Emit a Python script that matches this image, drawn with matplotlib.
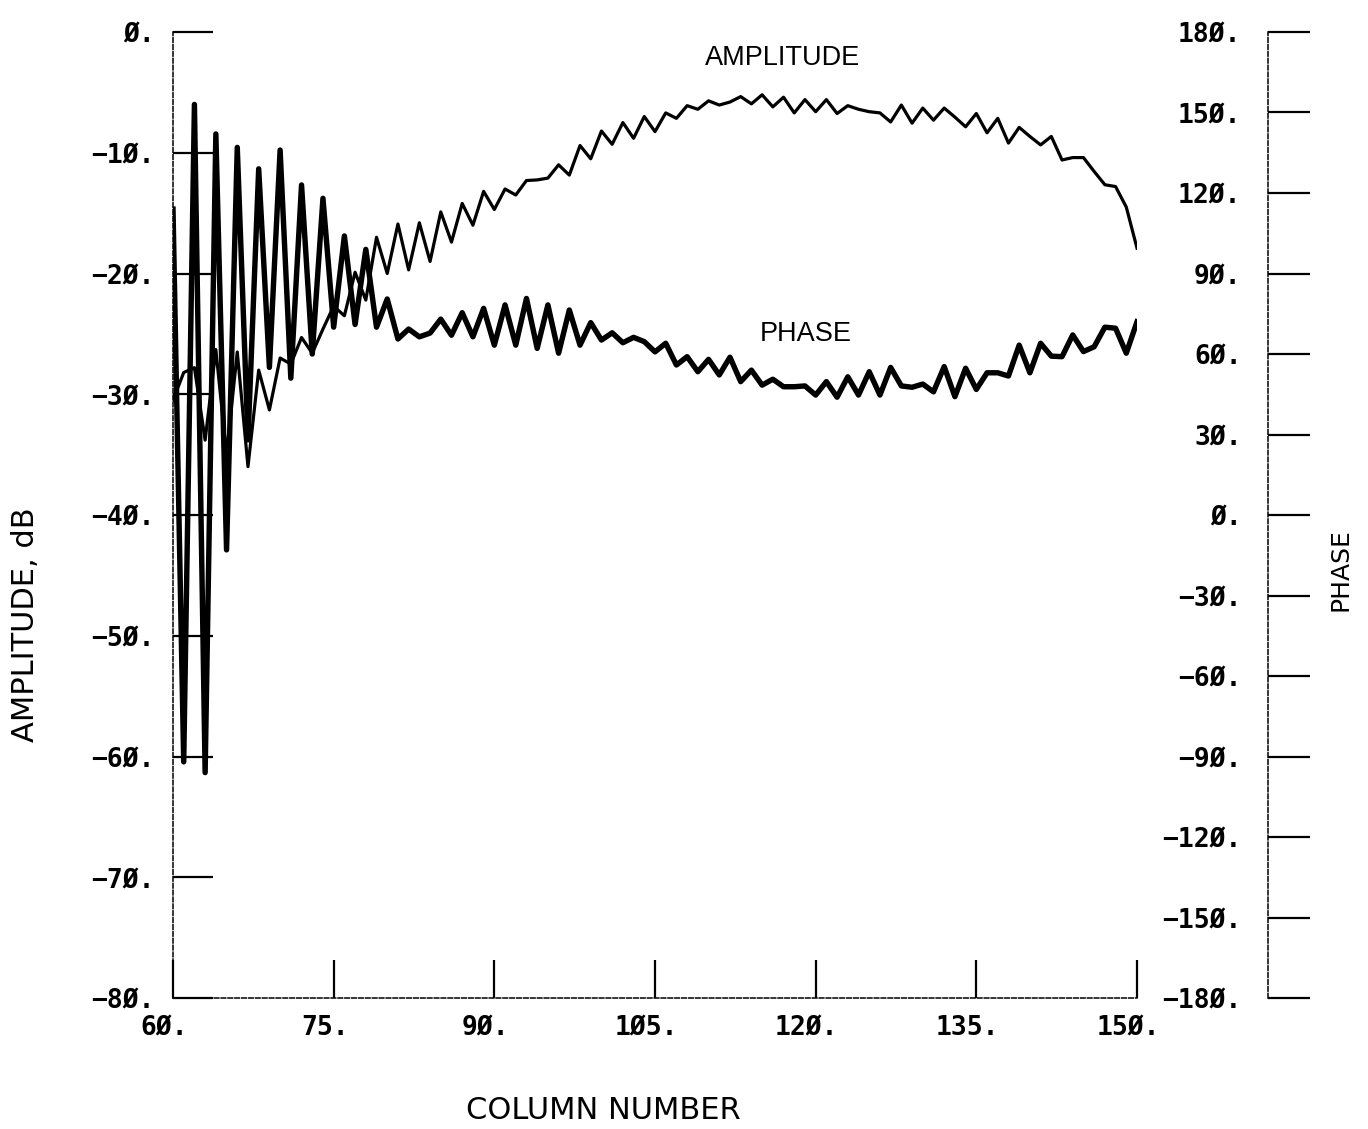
import numpy as np
import matplotlib
matplotlib.use('Agg')
import matplotlib.pyplot as plt
from matplotlib.ticker import FixedLocator, FixedFormatter
import matplotlib.transforms as mtransforms

# ---------------- data ----------------
columns = list(range(60, 151))

amplitude_db = [
    -30.5, -28.2, -27.8, -33.8, -26.3, -35.0, -26.5, -36.0, -28.0, -31.3,   # 60-69
    -27.0, -27.5, -25.3, -26.6, -24.6, -22.7, -23.5, -19.9, -22.2, -17.0,   # 70-79
    -20.0, -15.9, -19.7, -15.8, -19.0, -14.9, -17.4, -14.2, -16.0, -13.2,   # 80-89
    -14.7, -13.0, -13.5, -12.3, -12.25, -12.1, -11.0, -11.85, -9.4, -10.5,  # 90-99
    -8.2, -9.3, -7.5, -8.8, -7.0, -8.25, -6.7, -7.15, -6.1, -6.4,           # 100-109
    -5.7, -6.05, -5.8, -5.35, -5.95, -5.2, -6.2, -5.4, -6.7, -5.6,          # 110-119
    -6.6, -5.6, -6.75, -6.1, -6.4, -6.6, -6.7, -7.45, -6.05, -7.55,         # 120-129
    -6.3, -7.3, -6.3, -7.05, -7.85, -6.75, -8.35, -7.15, -9.2, -7.9,        # 130-139
    -8.65, -9.35, -8.65, -10.6, -10.4, -10.4, -11.55, -12.65, -12.8, -14.5, # 140-149
    -17.9,                                                                   # 150
]

phase_deg = [
    114, -92, 153, -96, 142, -13, 137, 28, 129, 55,                         # 60-69
    136, 51, 123, 60, 118, 70, 104, 71, 99, 70,                             # 70-79
    80.5, 65.6, 69.3, 66.4, 67.8, 73.0, 67.0, 75.4, 66.4, 77.0,             # 80-89
    63.3, 78.3, 63.3, 80.7, 62.1, 78.3, 60.3, 76.4, 63.3, 71.7,             # 90-99
    65.2, 67.9, 64.2, 66.2, 64.6, 60.8, 64.0, 55.9, 59.0, 53.4,             # 100-109
    58.0, 52.2, 58.8, 49.7, 54.0, 48.4, 50.6, 47.8, 47.8, 48.1,             # 110-119
    44.7, 49.7, 43.9, 51.5, 44.7, 53.4, 44.7, 55.0, 48.1, 47.6,             # 120-129
    48.8, 45.9, 55.3, 44.1, 54.7, 46.8, 53.0, 53.0, 51.8, 63.3,             # 130-139
    53.0, 64.0, 59.2, 59.0, 67.1, 60.9, 62.7, 70.0, 69.6, 60.3,             # 140-149
    72.0,                                                                    # 150
]

x_ticks = [60, 75, 90, 105, 120, 135, 150]
x_tick_labels = ['6Ø.', '75.', '9Ø.', '1Ø5.', '12Ø.', '135.', '15Ø.']

amp_ticks = [0, -10, -20, -30, -40, -50, -60, -70, -80]
amp_tick_labels = ['Ø.', '−1Ø.', '−2Ø.', '−3Ø.', '−4Ø.', '−5Ø.', '−6Ø.', '−7Ø.', '−8Ø.']

phase_ticks = [180, 150, 120, 90, 60, 30, 0, -30, -60, -90, -120, -150, -180]
phase_tick_labels = ['18Ø.', '15Ø.', '12Ø.', '9Ø.', '6Ø.', '3Ø.', 'Ø.',
                     '−3Ø.', '−6Ø.', '−9Ø.', '−12Ø.', '−15Ø.', '−18Ø.']

# ---------------- figure ----------------
W, H = 1368, 1129
fig = plt.figure(figsize=(W / 100, H / 100), dpi=100)
ax = fig.add_axes([173 / W, 131 / H, 964 / W, 966 / H])

tick_font = dict(family='DejaVu Sans Mono', weight='bold', size=19)
label_font = dict(family='DejaVu Sans', size=22)
annot_font = dict(family='Liberation Sans', size=19.5)

ax.plot(columns, amplitude_db, color='black', lw=2.3, solid_joinstyle='round')
ax.set_xlim(60, 150)
ax.set_ylim(-80, 0)

for s in ['top', 'right']:
    ax.spines[s].set_visible(False)
for s in ['left', 'bottom']:
    ax.spines[s].set_linestyle((0, (3, 1.5)))
    ax.spines[s].set_linewidth(1.1)

ax.xaxis.set_major_locator(FixedLocator(x_ticks))
ax.xaxis.set_major_formatter(FixedFormatter(x_tick_labels))
ax.yaxis.set_major_locator(FixedLocator(amp_ticks))
ax.yaxis.set_major_formatter(FixedFormatter(amp_tick_labels))
ax.tick_params(axis='x', direction='in', length=27.5, width=1.6, pad=12)
ax.tick_params(axis='y', direction='in', length=29, width=1.6, pad=13)
for lab in ax.get_xticklabels() + ax.get_yticklabels():
    lab.set_fontfamily(tick_font['family'])
    lab.set_fontweight(tick_font['weight'])
    lab.set_fontsize(tick_font['size'])
offset = mtransforms.ScaledTranslation(-9 / 100, 0, fig.dpi_scale_trans)
for lab in ax.xaxis.get_majorticklabels():
    lab.set_transform(lab.get_transform() + offset)

ax.set_xlabel('COLUMN NUMBER', **label_font)
ax.xaxis.label.set_va('center')
ax.xaxis.set_label_coords(0.446, -0.116)
ax.set_ylabel('AMPLITUDE, dB', **label_font)
ax.yaxis.label.set_va('center')
ax.yaxis.set_label_coords(-0.1535, 0.386)

# phase axis
ax2 = ax.twinx()
ax2.plot(columns, phase_deg, color='black', lw=3.9, solid_joinstyle='round')
ax2.set_ylim(-180, 180)
for s in ['top', 'right', 'bottom']:
    ax2.spines[s].set_visible(False)
ax2.spines['left'].set_visible(True)
ax2.spines['left'].set_position(('axes', (1268 - 173) / 964))
ax2.spines['left'].set_linestyle((0, (3, 1.5)))
ax2.spines['left'].set_linewidth(1.1)
ax2.yaxis.set_ticks_position('left')
ax2.yaxis.set_major_locator(FixedLocator(phase_ticks))
ax2.yaxis.set_major_formatter(FixedFormatter(phase_tick_labels))
ax2.tick_params(axis='y', direction='in', length=30, width=1.6, pad=19)
for lab in ax2.get_yticklabels():
    lab.set_fontfamily(tick_font['family'])
    lab.set_fontweight(tick_font['weight'])
    lab.set_fontsize(tick_font['size'])
ax2.set_ylabel('PHASE', family='DejaVu Sans', size=18)
ax2.yaxis.set_label_position('right')
ax2.yaxis.label.set_va('center')
ax2.yaxis.set_label_coords((1340 - 173) / 964, (998 - 570) / 966)

# curve annotations
ax.text(116.95, -2.15, 'AMPLITUDE', ha='center', va='center', **annot_font)
ax.text(119.1, -25.0, 'PHASE', ha='center', va='center', **annot_font)

fig.savefig('out.png', dpi=100)
